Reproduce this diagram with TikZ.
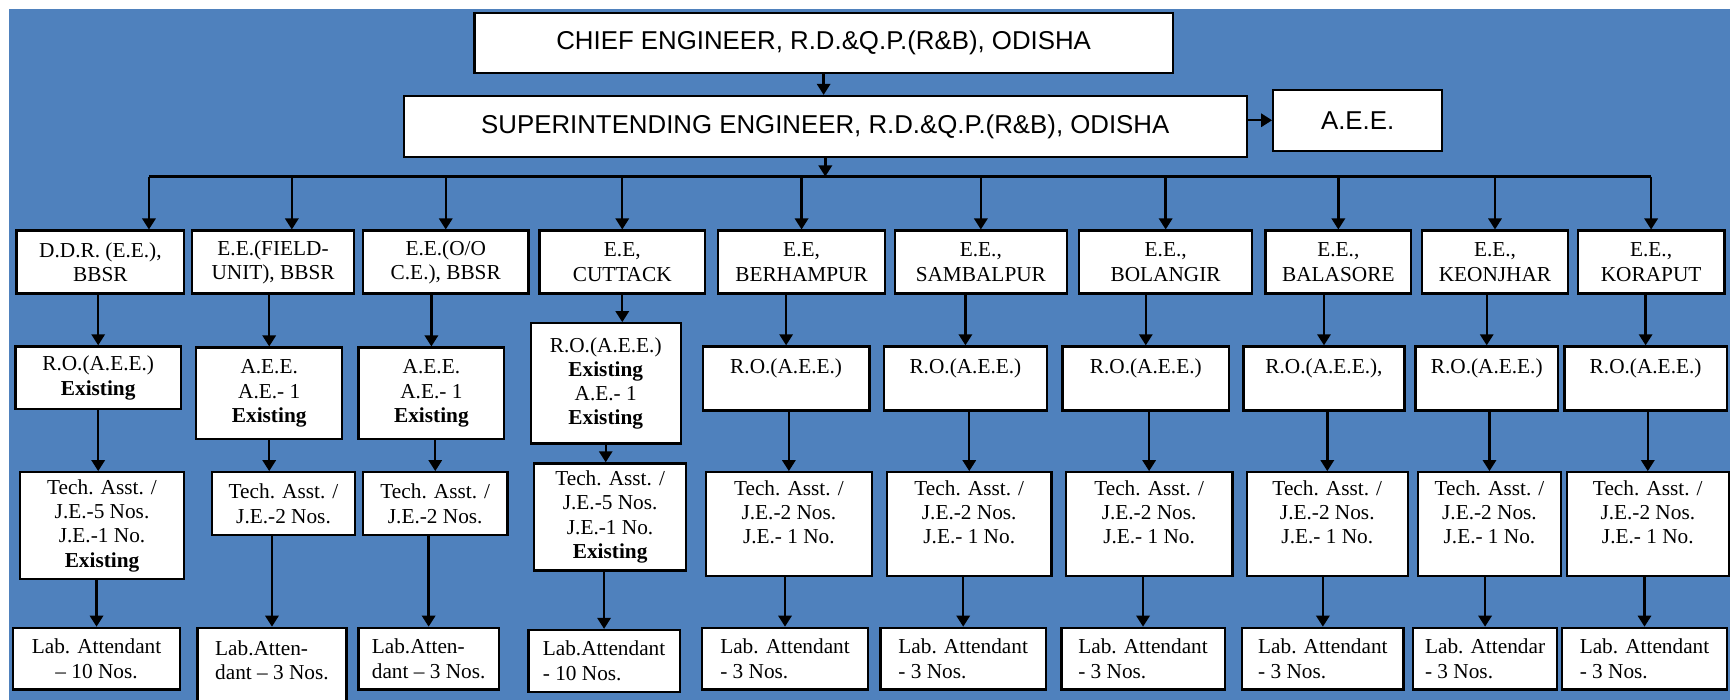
\documentclass[tikz,border=0pt]{standalone}
\usepackage{fontspec}
\setmainfont{Liberation Serif}
\newfontfamily\headfont{Liberation Sans}
\usetikzlibrary{arrows.meta}
\definecolor{chartblue}{HTML}{4F81BD}
\begin{document}
\begin{tikzpicture}[
x=1pt, y=-1pt,
box/.style={
draw,
fill=white,
line width=2pt,
align=center,
inner sep=2pt,
font=\fontsize{19.3}{22}\selectfont
},
headbox/.style={box, minimum height=55pt, font=\headfont\fontsize{23.4}{28}\selectfont},
eebox/.style={box, minimum height=57pt},
labbox/.style={box, minimum height=56pt, align=left},
arrow/.style={-{Triangle[width=12pt,length=10pt]}, line width=2.2pt},
busline/.style={line width=2.2pt}
]
\useasboundingbox (0,0) rectangle (1568,634);
\fill[chartblue] (8,8) rectangle (1568,634);
\node[headbox, minimum width=633pt] (chief) at (746.5,39)
{CHIEF ENGINEER, R.D.\&Q.P.(R\&B), ODISHA};
\node[headbox, minimum width=764pt] (superint) at (748,114.5)
{SUPERINTENDING ENGINEER, R.D.\&Q.P.(R\&B), ODISHA};
\node[headbox, minimum width=153pt] (aee) at (1230.5,109) {A.E.E.};
\coordinate (bus) at (748,160);
\node[eebox, minimum width=152pt] (ddr) at (91,237.5) {D.D.R. (E.E.),\\BBSR};
\node[eebox, minimum width=147pt] (eefield) at (247.5,237.5) {E.E.(FIELD-\\UNIT), BBSR};
\node[eebox, minimum width=150pt] (eeoo) at (404,237.5) {E.E.(O/O\\C.E.), BBSR};
\node[eebox, minimum width=150pt] (eectc) at (564,237.5) {E.E,\\CUTTACK};
\node[eebox, minimum width=151pt] (eebhp) at (726.5,237.5) {E.E,\\BERHAMPUR};
\node[eebox, minimum width=156pt] (eesbp) at (889,237.5) {E.E.,\\SAMBALPUR};
\node[eebox, minimum width=157pt] (eeblg) at (1056.5,237.5) {E.E.,\\BOLANGIR};
\node[eebox, minimum width=132pt] (eebls) at (1213,237.5) {E.E.,\\BALASORE};
\node[eebox, minimum width=132pt] (eekjr) at (1355,237.5) {E.E.,\\KEONJHAR};
\node[eebox, minimum width=133pt] (eekpt) at (1496.5,237.5) {E.E.,\\KORAPUT};
\node[box, minimum width=150pt, minimum height=57pt] (roddr) at (89,342.5)
{R.O.(A.E.E.)\\\textbf{Existing}};
\node[box, minimum width=132pt, minimum height=83pt] (rofield) at (244,356.5)
{A.E.E.\\A.E.- 1\\\textbf{Existing}};
\node[box, minimum width=132pt, minimum height=83pt] (rooo) at (391,356.5)
{A.E.E.\\A.E.- 1\\\textbf{Existing}};
\node[box, minimum width=136pt, minimum height=109pt] (roctc) at (549,347.5)
{R.O.(A.E.E.)\\\textbf{Existing}\\A.E.- 1\\\textbf{Existing}};
\node[box, minimum width=151pt, minimum height=58pt] (robhp) at (712.5,343) {R.O.(A.E.E.)\\~};
\node[box, minimum width=148pt, minimum height=58pt] (rosbp) at (875,343) {R.O.(A.E.E.)\\~};
\node[box, minimum width=151pt, minimum height=58pt] (roblg) at (1038.5,343) {R.O.(A.E.E.)\\~};
\node[box, minimum width=146pt, minimum height=58pt] (robls) at (1200,343) {R.O.(A.E.E.),\\~};
\node[box, minimum width=129pt, minimum height=58pt] (rokjr) at (1347.5,343) {R.O.(A.E.E.)\\~};
\node[box, minimum width=147pt, minimum height=58pt] (rokpt) at (1491.5,343) {R.O.(A.E.E.)\\~};
\node[box, minimum width=149pt, minimum height=97pt] (taddr) at (92.5,476.5)
{Tech. Asst. /\\J.E.-5 Nos.\\J.E.-1 No.\\\textbf{Existing}};
\node[box, minimum width=130pt, minimum height=57pt] (tafield) at (257,456.5)
{Tech. Asst. /\\J.E.-2 Nos.};
\node[box, minimum width=131pt, minimum height=57pt] (taoo) at (394.5,456.5)
{Tech. Asst. /\\J.E.-2 Nos.};
\node[box, minimum width=138pt, minimum height=97pt] (tactc) at (553,468.5)
{Tech. Asst. /\\J.E.-5 Nos.\\J.E.-1 No.\\\textbf{Existing}};
\node[box, minimum width=150pt, minimum height=94pt] (tabhp) at (715,475)
{Tech. Asst. /\\J.E.-2 Nos.\\J.E.- 1 No.\\~};
\node[box, minimum width=149pt, minimum height=94pt] (tasbp) at (878.5,475)
{Tech. Asst. /\\J.E.-2 Nos.\\J.E.- 1 No.\\~};
\node[box, minimum width=151pt, minimum height=94pt] (tablg) at (1041.5,475)
{Tech. Asst. /\\J.E.-2 Nos.\\J.E.- 1 No.\\~};
\node[box, minimum width=146pt, minimum height=94pt] (tabls) at (1203,475)
{Tech. Asst. /\\J.E.-2 Nos.\\J.E.- 1 No.\\~};
\node[box, minimum width=130pt, minimum height=94pt] (takjr) at (1350,475)
{Tech. Asst. /\\J.E.-2 Nos.\\J.E.- 1 No.\\~};
\node[box, minimum width=147pt, minimum height=94pt] (takpt) at (1493.5,475)
{Tech. Asst. /\\J.E.-2 Nos.\\J.E.- 1 No.\\~};
\node[labbox, align=center, minimum width=151pt] (labddr) at (87.5,597) {Lab. Attendant\\-- 10 Nos.};
\node[labbox, minimum width=135pt, minimum height=80pt] (labfield) at (246.5,609)
{Lab.Atten-\\dant -- 3 Nos.\\~};
\node[labbox, minimum width=127pt] (laboo) at (388.5,597) {Lab.Atten-\\dant -- 3 Nos.};
\node[labbox, minimum width=137pt] (labctc) at (547.5,599) {Lab.Attendant\\- 10 Nos.};
\node[labbox, minimum width=151pt] (labbhp) at (711.5,597) {Lab. Attendant\\- 3 Nos.};
\node[labbox, minimum width=150pt] (labsbp) at (873,597) {Lab. Attendant\\- 3 Nos.};
\node[labbox, minimum width=148pt] (labblg) at (1036,597) {Lab. Attendant\\- 3 Nos.};
\node[labbox, minimum width=146pt] (labbls) at (1199,597) {Lab. Attendant\\- 3 Nos.};
\node[labbox, minimum width=130pt] (labkjr) at (1346,597) {Lab. Attendar\\- 3 Nos.};
\node[labbox, minimum width=149pt] (labkpt) at (1490.5,597) {Lab. Attendant\\- 3 Nos.};
\draw[arrow] (chief.south) -- (chief.south |- superint.north);
\draw[arrow] (superint.east |- aee.west) -- (aee.west);
\draw[arrow] (superint.south) -- (superint.south |- bus);
\draw[busline] ([xshift=44pt]ddr.north |- bus) -- (eekpt.north |- bus);
\draw[arrow] ([xshift=44pt]ddr.north |- bus) -- ([xshift=44pt]ddr.north);
\draw[arrow] ([xshift=17pt]eefield.north |- bus) -- ([xshift=17pt]eefield.north);
\draw[arrow] (eeoo.north |- bus) -- (eeoo.north);
\draw[arrow] (eectc.north |- bus) -- (eectc.north);
\draw[arrow] (eebhp.north |- bus) -- (eebhp.north);
\draw[arrow] (eesbp.north |- bus) -- (eesbp.north);
\draw[arrow] (eeblg.north |- bus) -- (eeblg.north);
\draw[arrow] (eebls.north |- bus) -- (eebls.north);
\draw[arrow] (eekjr.north |- bus) -- (eekjr.north);
\draw[arrow] (eekpt.north |- bus) -- (eekpt.north);
\draw[arrow] (ddr.south -| roddr.north) -- (roddr.north);
\draw[arrow] (eefield.south -| rofield.north) -- (rofield.north);
\draw[arrow] (eeoo.south -| rooo.north) -- (rooo.north);
\draw[arrow] (eectc.south) -- (eectc.south |- roctc.north);
\draw[arrow] (eebhp.south -| robhp.north) -- (robhp.north);
\draw[arrow] (eesbp.south -| rosbp.north) -- (rosbp.north);
\draw[arrow] (eeblg.south -| roblg.north) -- (roblg.north);
\draw[arrow] (eebls.south -| robls.north) -- (robls.north);
\draw[arrow] (eekjr.south -| rokjr.north) -- (rokjr.north);
\draw[arrow] (eekpt.south -| rokpt.north) -- (rokpt.north);
\draw[arrow] (roddr.south) -- (roddr.south |- taddr.north);
\draw[arrow] (rofield.south) -- (rofield.south |- tafield.north);
\draw[arrow] (rooo.south -| taoo.north) -- (taoo.north);
\draw[arrow] (roctc.south) -- (roctc.south |- tactc.north);
\draw[arrow] (robhp.south -| tabhp.north) -- (tabhp.north);
\draw[arrow] (rosbp.south -| tasbp.north) -- (tasbp.north);
\draw[arrow] (roblg.south -| tablg.north) -- (tablg.north);
\draw[arrow] (robls.south -| tabls.north) -- (tabls.north);
\draw[arrow] (rokjr.south -| takjr.north) -- (takjr.north);
\draw[arrow] (rokpt.south -| takpt.north) -- (takpt.north);
\draw[arrow] (taddr.south -| labddr.north) -- (labddr.north);
\draw[arrow] (tafield.south -| labfield.north) -- (labfield.north);
\draw[arrow] (taoo.south -| laboo.north) -- (laboo.north);
\draw[arrow] (tactc.south -| labctc.north) -- (labctc.north);
\draw[arrow] (tabhp.south -| labbhp.north) -- (labbhp.north);
\draw[arrow] (tasbp.south -| labsbp.north) -- (labsbp.north);
\draw[arrow] (tablg.south -| labblg.north) -- (labblg.north);
\draw[arrow] (tabls.south -| labbls.north) -- (labbls.north);
\draw[arrow] (takjr.south -| labkjr.north) -- (labkjr.north);
\draw[arrow] (takpt.south -| labkpt.north) -- (labkpt.north);
\end{tikzpicture}
\end{document}
